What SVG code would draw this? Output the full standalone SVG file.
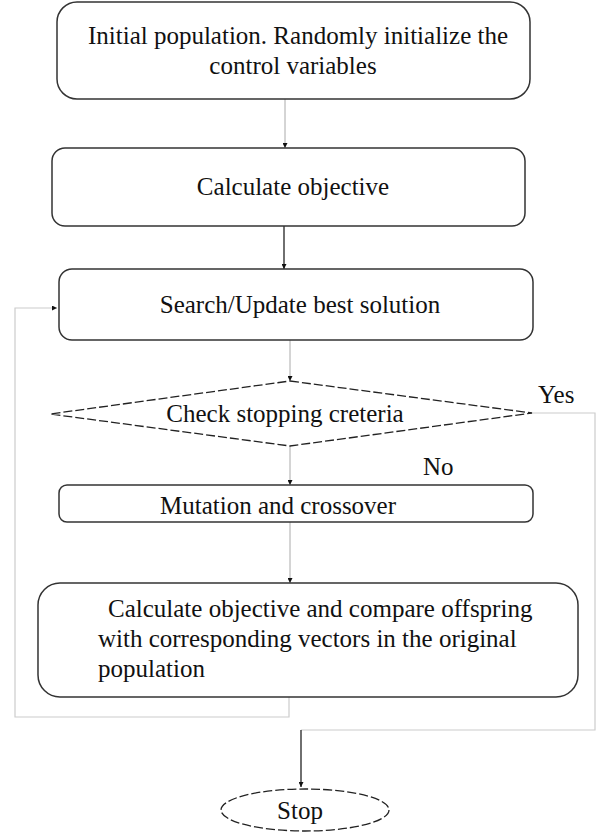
<svg xmlns="http://www.w3.org/2000/svg" width="599" height="832" viewBox="0 0 599 832">
<style>
.box{fill:#fff;stroke:#333;stroke-width:1.5}
.dash{fill:#fff;stroke:#222;stroke-width:1.3;stroke-dasharray:9 3}
.t{font-family:"Liberation Serif","Times New Roman",serif;font-size:25px;fill:#111}
.c{text-anchor:middle}
.ln{fill:none;stroke:#aaa;stroke-width:1}
.dk{fill:none;stroke:#222;stroke-width:1.3}
.lp{fill:none;stroke:#ccc;stroke-width:1.2}
</style>
<defs>
<marker id="ah" viewBox="0 0 10 10" refX="10" refY="5" markerWidth="5" markerHeight="5" orient="auto" markerUnits="userSpaceOnUse">
<path d="M0,0 L10,5 L0,10 z" fill="#111"/>
</marker>
</defs>
<g id="connectors">
<line class="ln" x1="285" y1="99" x2="285" y2="148" marker-end="url(#ah)"/>
<line class="dk" x1="284" y1="226" x2="284" y2="269" marker-end="url(#ah)"/>
<line class="ln" x1="290" y1="340" x2="290" y2="381" marker-end="url(#ah)"/>
<line class="ln" x1="290" y1="446" x2="290" y2="485" marker-end="url(#ah)"/>
<line class="ln" x1="290" y1="522" x2="290" y2="583" marker-end="url(#ah)"/>
<polyline class="lp" points="289,697 289,717 15,717 15,308 57,308" marker-end="url(#ah)"/>
<polyline class="lp" points="532,413 595,413 595,730 301,730"/>
<line class="dk" x1="301" y1="730" x2="301" y2="787" marker-end="url(#ah)"/>
</g>
<g id="n1">
<rect class="box" x="57" y="2" width="473" height="97" rx="20"/>
<text class="t c" x="298" y="44">Initial population. Randomly initialize the</text>
<text class="t c" x="293" y="74">control variables</text>
</g>
<g id="n2">
<rect class="box" x="52" y="148" width="473" height="78" rx="13"/>
<text class="t c" x="293" y="195">Calculate objective</text>
</g>
<g id="n3">
<rect class="box" x="59" y="269" width="474" height="71" rx="13"/>
<text class="t c" x="300" y="313">Search/Update best solution</text>
</g>
<g id="n4">
<polygon class="dash" points="290,381 532,413 290,446 50,414"/>
<text class="t c" x="285" y="422">Check stopping creteria</text>
</g>
<text class="t" x="538" y="403">Yes</text>
<text class="t" x="423" y="475">No</text>
<g id="n5">
<rect class="box" x="59" y="485" width="474" height="37" rx="8"/>
<text class="t c" x="278" y="514">Mutation and crossover</text>
</g>
<g id="n6">
<rect class="box" x="38" y="583" width="540" height="114" rx="22"/>
<text class="t" x="108" y="617">Calculate objective and compare offspring</text>
<text class="t" x="98" y="647">with corresponding vectors in the original</text>
<text class="t" x="98" y="677">population</text>
</g>
<g id="n7">
<ellipse class="dash" cx="305" cy="810" rx="84" ry="21"/>
<text class="t c" x="300" y="819">Stop</text>
</g>
</svg>
